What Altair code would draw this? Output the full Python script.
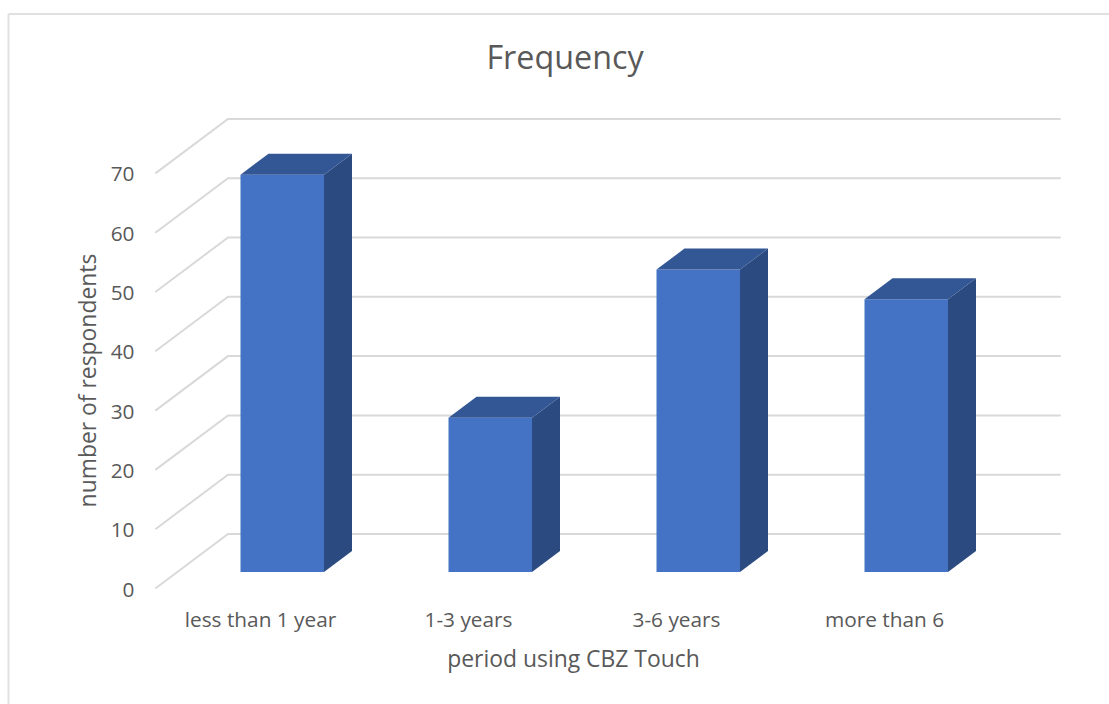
import altair as alt
import pandas as pd

# Survey responses per usage period
periods = ["less than 1 year", "1-3 years", "3-6 years", "more than 6"]
respondents = [67, 26, 51, 46]
y_ticks = [0, 10, 20, 30, 40, 50, 60, 70]

# Pseudo-3D geometry: x in category bands, y in respondent units
PLOT_W, PLOT_H = 904, 469
BAND_PX, UNIT_PX = 208.0, 5.93
X_MAX, Y_MAX = PLOT_W / BAND_PX, PLOT_H / UNIT_PX
WALL_DX, WALL_DY = 72 / BAND_PX, 54 / UNIT_PX
WALL_END = 904 / BAND_PX
BAR_LEFT, BAR_W = 84.5 / BAND_PX, 83.5 / BAND_PX
BAR_BASE = 16 / UNIT_PX
BAR_DX, BAR_DY = 28 / BAND_PX, 21 / UNIT_PX

FONT = "Open Sans"
GREY = "#595959"
GRID = "#d9d9d9"

x_scale = alt.Scale(domain=[0, X_MAX], nice=False, zero=False)
y_scale = alt.Scale(domain=[0, Y_MAX], nice=False, zero=False)

label_expr = (
    "["
    + ",".join(f"'{p}'" for p in periods)
    + "][floor(datum.value)]"
)

x_axis = alt.Axis(
    values=[i + 0.5 for i in range(len(periods))],
    labelExpr=label_expr,
    title="period using CBZ Touch",
    titleX=417,
    titleY=60,
    titleFont=FONT,
    titleFontSize=22.9,
    titleFontWeight="normal",
    titleColor=GREY,
    labelFont=FONT,
    labelFontSize=20.8,
    labelColor=GREY,
    labelPadding=22,
    ticks=False,
    domain=False,
    grid=False,
    labelOverlap=False,
    labelFlush=False,
)
y_axis = alt.Axis(
    values=y_ticks,
    title="number of respondents",
    titleX=-56,
    titleY=261,
    titleFont=FONT,
    titleFontSize=22.9,
    titleFontWeight="normal",
    titleColor=GREY,
    labelFont=FONT,
    labelFontSize=20.8,
    labelColor=GREY,
    labelPadding=22,
    labelOffset=2,
    ticks=False,
    domain=False,
    grid=False,
)


def xq(field="x"):
    return alt.X(f"{field}:Q", scale=x_scale, axis=x_axis)


def yq(field="y"):
    return alt.Y(f"{field}:Q", scale=y_scale, axis=y_axis)


# Gridlines: a diagonal along the side wall, then a run along the back wall
grid_rows = []
for t in y_ticks:
    grid_rows += [
        {"tick": t, "step": 0, "x": 0.0, "y": t},
        {"tick": t, "step": 1, "x": WALL_DX, "y": t + WALL_DY},
        {"tick": t, "step": 2, "x": WALL_END, "y": t + WALL_DY},
    ]
grid_df = pd.DataFrame(grid_rows)

front_rows, side_rows, top_rows = [], [], []
for i, (name, v) in enumerate(zip(periods, respondents)):
    x0 = i + BAR_LEFT
    x1 = x0 + BAR_W
    top = BAR_BASE + v
    front_rows.append({"period": name, "x": x0, "x2": x1, "y": BAR_BASE, "y2": top})
    side_rows += [
        {"period": name, "x": x1, "y": BAR_BASE, "y2": top},
        {"period": name, "x": x1 + BAR_DX, "y": BAR_BASE + BAR_DY, "y2": top + BAR_DY},
    ]
    top_rows += [
        {"period": name, "y": top, "x": x0, "x2": x1},
        {"period": name, "y": top + BAR_DY, "x": x0 + BAR_DX, "x2": x1 + BAR_DX},
    ]

grid = (
    alt.Chart(grid_df)
    .mark_line(color=GRID, strokeWidth=2, strokeCap="round")
    .encode(x=xq(), y=yq(), detail="tick:N", order="step:Q")
)

front = (
    alt.Chart(pd.DataFrame(front_rows))
    .mark_rect(color="#4472c4")
    .encode(x=xq(), x2="x2:Q", y=yq(), y2="y2:Q")
)
side = (
    alt.Chart(pd.DataFrame(side_rows))
    .mark_area(color="#2a4a80", opacity=1)
    .encode(x=xq(), y=yq(), y2="y2:Q", detail="period:N")
)
top_face = (
    alt.Chart(pd.DataFrame(top_rows))
    .mark_area(color="#335795", opacity=1, orient="horizontal")
    .encode(y=yq(), x=xq(), x2="x2:Q", detail="period:N")
)

# Thin frame around the chart area, running off the right and bottom
frame_left = (
    alt.Chart(pd.DataFrame({"k": [0]}))
    .mark_rule(color="#e0e0e0", strokeWidth=2)
    .encode(x=alt.value(-147.5), y=alt.value(-105), y2=alt.value(PLOT_H + 116))
)
frame_top = (
    alt.Chart(pd.DataFrame({"k": [0]}))
    .mark_rule(color="#e0e0e0", strokeWidth=2)
    .encode(x=alt.value(-147.5), x2=alt.value(PLOT_W + 49), y=alt.value(-105))
)

chart = (
    alt.layer(grid, front, side, top_face, frame_left, frame_top)
    .resolve_scale(x="shared", y="shared")
    .properties(
        width=PLOT_W,
        height=PLOT_H,
        autosize=alt.AutoSizeParams(type="none"),
        padding={"left": 156, "top": 119, "right": 49, "bottom": 116},
        background="white",
        title=alt.TitleParams(
            "Frequency",
            font=FONT,
            fontSize=32.3,
            fontWeight="normal",
            color=GREY,
            anchor="middle",
            dx=-43,
            dy=62,
            offset=0,
        ),
    )
    .configure_view(stroke=None)
)

chart.save("out.html", embed_options={"renderer": "svg", "actions": False})
